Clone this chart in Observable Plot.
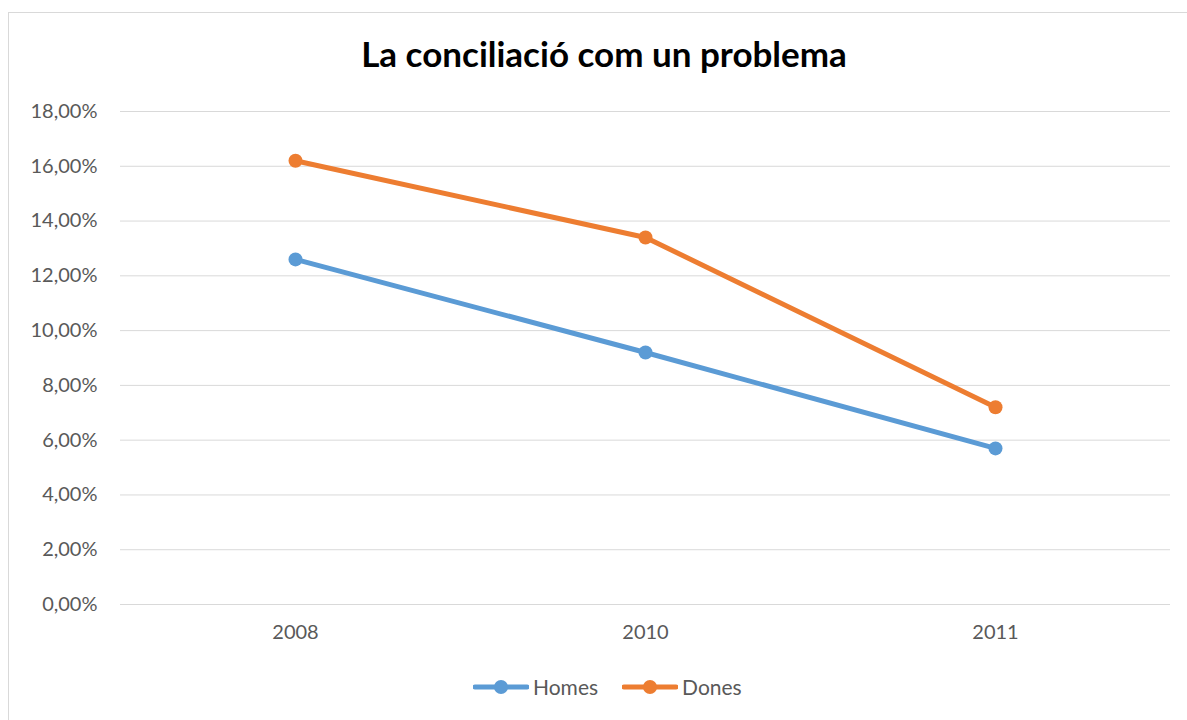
<!DOCTYPE html>
<html>
<head>
<meta charset="utf-8">
<script src="https://cdn.jsdelivr.net/npm/d3@7"></script>
<script src="https://cdn.jsdelivr.net/npm/@observablehq/plot@0.6"></script>
<style>
  html, body { margin: 0; padding: 0; background: #fff; overflow: hidden; width: 1187px; height: 720px; }
  #frame { position: absolute; left: 8px; top: 12px; width: 1200px; height: 720px; border: 1px solid #d9d9d9; box-sizing: border-box; }
  #title { position: absolute; left: 0; top: 32px; width: 1208px; text-align: center; font-family: Lato, sans-serif; font-weight: 700; font-size: 35px; color: #000; }
  #chart { position: absolute; left: 0; top: 90px; }
  #legend { position: absolute; left: 473px; top: 674px; display: flex; align-items: center; font-family: Lato, sans-serif; font-size: 21px; color: #595959; }
  .item { display: flex; align-items: center; margin-right: 24px; }
  .item svg { margin-right: 4px; }
</style>
</head>
<body>
<div id="frame"></div>
<div id="title">La conciliació com un problema</div>
<div id="chart"></div>
<div id="legend"></div>
<script>
const years = ["2008", "2010", "2011"];
const seriesNames = ["Homes", "Dones"];
const homes = [12.6, 9.2, 5.7];
const dones = [16.2, 13.4, 7.2];
const yTicks = [0, 2, 4, 6, 8, 10, 12, 14, 16, 18];
const colors = ["#5B9BD5", "#ED7D31"];

const data = [];
years.forEach((y, i) => {
  data.push({year: y, value: homes[i], series: "Homes"});
  data.push({year: y, value: dones[i], series: "Dones"});
});

const fmt = d => d.toFixed(2).replace(".", ",") + "%";

const chart = Plot.plot({
  width: 1187,
  height: 570,
  marginLeft: 120,
  marginRight: 17,
  marginTop: 21,
  marginBottom: 56,
  style: {fontFamily: "Lato, sans-serif", fontSize: "20px", color: "#595959", background: "transparent"},
  x: {type: "point", domain: years, padding: 0.5, label: null},
  y: {domain: [0, 18], ticks: yTicks, label: null, tickFormat: fmt},
  color: {domain: seriesNames, range: colors},
  marks: [
    Plot.gridY(yTicks, {stroke: "#d9d9d9", strokeOpacity: 1, strokeWidth: 1}),
    Plot.axisY(yTicks, {tickSize: 0, tickPadding: 23, tickFormat: fmt, label: null, fill: "#595959"}),
    Plot.axisX({tickSize: 0, tickPadding: 20, label: null, fill: "#595959"}),
    Plot.line(data, {x: "year", y: "value", z: "series", stroke: "series", strokeWidth: 5, strokeLinecap: "round", strokeLinejoin: "round"}),
    Plot.dot(data, {x: "year", y: "value", fill: "series", r: 7})
  ]
});
document.getElementById("chart").appendChild(chart);

const legend = document.getElementById("legend");
seriesNames.forEach((name, i) => {
  const item = document.createElement("div");
  item.className = "item";
  item.innerHTML = `<svg width="56" height="16"><line x1="2" y1="8" x2="54" y2="8" stroke="${colors[i]}" stroke-width="5" stroke-linecap="round"/><circle cx="28" cy="8" r="7" fill="${colors[i]}"/></svg><span>${name}</span>`;
  legend.appendChild(item);
});
</script>
</body>
</html>
